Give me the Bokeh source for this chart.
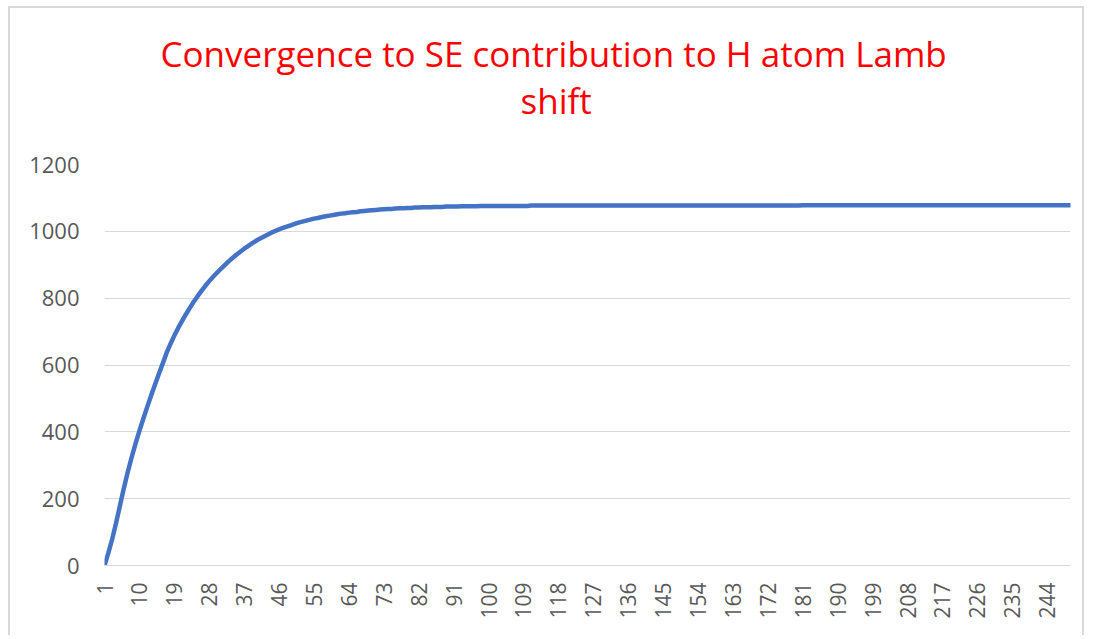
import math
from bokeh.plotting import figure
from bokeh.models import Range1d, FixedTicker, Title
from bokeh.embed import file_html
from bokeh.resources import INLINE

# ---- data ----
categories = list(range(1, 251))
se_values = [
    0, 38, 80, 128, 180, 232, 280, 324, 365, 403,
    439, 474, 508, 541, 573, 604, 636, 663, 688, 711,
    732, 752, 771, 789, 806, 822, 837, 851, 864, 876,
    888, 899, 910, 920, 930, 939, 948, 956, 964, 971,
    978, 984, 990, 996, 1001, 1006, 1010, 1014, 1018, 1022,
    1026, 1029, 1032, 1035, 1038, 1040, 1043, 1045, 1047, 1049,
    1051, 1053, 1054, 1056, 1057, 1058, 1060, 1061, 1062, 1063,
    1064, 1065, 1066, 1067, 1067, 1068, 1069, 1069, 1070, 1070,
    1071, 1071, 1072, 1072, 1072, 1073, 1073, 1073, 1074, 1074,
    1074, 1074, 1075, 1075, 1075, 1075, 1075, 1076, 1076, 1076,
    1076, 1076, 1076, 1076, 1076, 1076, 1076, 1076, 1076, 1076,
    1077, 1077, 1077, 1077, 1077, 1077, 1077, 1077, 1077, 1077,
    1077, 1077, 1077, 1077, 1077, 1077, 1077, 1077, 1077, 1077,
    1077, 1077, 1077, 1077, 1077, 1077, 1077, 1077, 1077, 1077,
    1077, 1077, 1077, 1077, 1077, 1077, 1077, 1077, 1077, 1077,
    1077, 1077, 1077, 1077, 1077, 1077, 1077, 1077, 1077, 1077,
    1077, 1077, 1077, 1077, 1077, 1077, 1077, 1077, 1077, 1077,
    1077, 1077, 1077, 1077, 1077, 1077, 1077, 1077, 1077, 1077,
    1078, 1078, 1078, 1078, 1078, 1078, 1078, 1078, 1078, 1078,
    1078, 1078, 1078, 1078, 1078, 1078, 1078, 1078, 1078, 1078,
    1078, 1078, 1078, 1078, 1078, 1078, 1078, 1078, 1078, 1078,
    1078, 1078, 1078, 1078, 1078, 1078, 1078, 1078, 1078, 1078,
    1078, 1078, 1078, 1078, 1078, 1078, 1078, 1078, 1078, 1078,
    1078, 1078, 1078, 1078, 1078, 1078, 1078, 1078, 1078, 1078,
    1078, 1078, 1078, 1078, 1078, 1078, 1078, 1078, 1078, 1078,
]
x_tick_values = [1, 10, 19, 28, 37, 46, 55, 64, 73, 82, 91, 100, 109, 118, 127,
                 136, 145, 154, 163, 172, 181, 190, 199, 208, 217, 226, 235, 244]
y_tick_values = [0, 200, 400, 600, 800, 1000, 1200]
title_line1 = "Convergence to SE contribution to H atom Lamb"
title_line2 = "shift"

FONT = "Open Sans"
LABEL_COLOR = "#595959"
GRID_COLOR = "#d9d9d9"

p = figure(width=1076, height=629, output_backend="svg", toolbar_location=None,
           x_range=Range1d(categories[0], categories[-1]), y_range=Range1d(0, 1200),
           min_border_left=94, min_border_right=16, min_border_top=156,
           min_border_bottom=72)
p.styles = {"border-top": "2px solid #d9d9d9", "border-left": "2px solid #d9d9d9",
            "border-right": "2px solid #d9d9d9", "margin-left": "8px",
            "margin-top": "6px"}
p.outline_line_color = None
p.background_fill_color = "white"
p.border_fill_color = "white"

p.line(x=categories, y=se_values, line_width=4.5, line_color="#4472C4",
       line_cap="round", line_join="round")

# titles: blank spacer next to the frame, then the two title lines
spacer = Title(text=" ", align="left", standoff=37, text_font_size="2px",
               text_color="white", text_font=FONT)
t2 = Title(text=title_line2, align="left", offset=416, standoff=-2,
           text_font_size="35px", text_color="#FF0000", text_font=FONT,
           text_font_style="normal")
t1 = Title(text=title_line1, align="left", offset=56, standoff=-2,
           text_font_size="35px", text_color="#FF0000", text_font=FONT,
           text_font_style="normal")
p.add_layout(spacer, "above")
p.add_layout(t2, "above")
p.add_layout(t1, "above")

# axes
p.xaxis.ticker = FixedTicker(ticks=x_tick_values)
p.xaxis.major_label_orientation = math.pi / 2
p.xaxis.axis_line_color = GRID_COLOR
p.xaxis.axis_line_width = 1
p.xaxis.major_tick_line_color = None
p.xaxis.major_tick_out = 0
p.xaxis.major_tick_in = 0
p.xaxis.minor_tick_line_color = None
p.xaxis.major_label_standoff = 17
p.xaxis.major_label_text_font = FONT
p.xaxis.major_label_text_font_size = "21px"
p.xaxis.major_label_text_color = LABEL_COLOR

p.yaxis.ticker = FixedTicker(ticks=y_tick_values)
p.yaxis.axis_line_color = None
p.yaxis.major_tick_line_color = None
p.yaxis.major_tick_out = 0
p.yaxis.major_tick_in = 0
p.yaxis.minor_tick_line_color = None
p.yaxis.major_label_standoff = 25
p.yaxis.major_label_text_font = FONT
p.yaxis.major_label_text_font_size = "22px"
p.yaxis.major_label_text_color = LABEL_COLOR

p.xgrid.grid_line_color = None
p.ygrid.grid_line_color = GRID_COLOR
p.ygrid.grid_line_width = 1

open("out.html", "w").write(file_html(p, INLINE))
